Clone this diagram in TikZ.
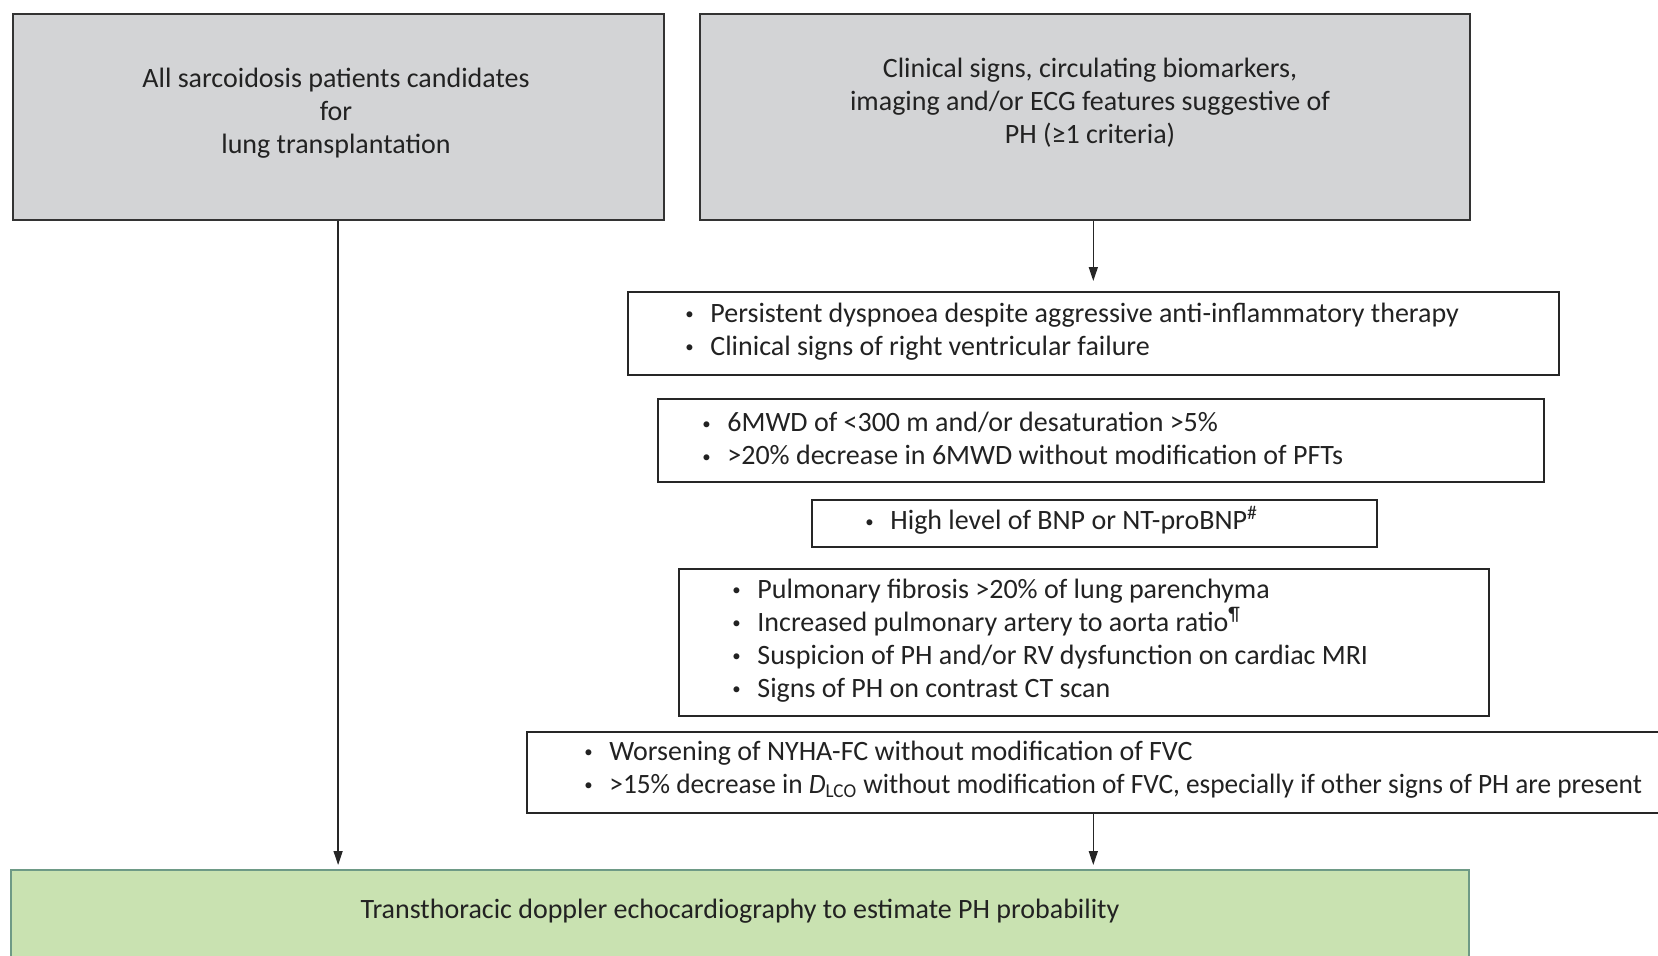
\documentclass[tikz,border=0pt]{standalone}
\usepackage{fontspec}
\setmainfont{Carlito}
\usetikzlibrary{arrows.meta,calc}
\definecolor{boxgray}{HTML}{D3D4D6}
\definecolor{greenfill}{HTML}{C9E2B1}
\definecolor{greenline}{HTML}{6E9A86}
\definecolor{txtcol}{HTML}{222222}
\newcommand{\bul}{\makebox[12.5pt][l]{\raisebox{1.2pt}{\scalebox{0.6}{\textbullet}}}}
\begin{document}
\begin{tikzpicture}[x=0.5pt,y=-0.5pt,
  graybox/.style={draw=black!80, line width=1pt, fill=boxgray, anchor=north west, inner sep=0},
  listbox/.style={draw=black!85, line width=0.8pt, fill=white, anchor=north west, inner sep=0},
  greenbox/.style={draw=greenline, line width=1pt, fill=greenfill, anchor=north west, inner sep=0},
  txt/.style={font=\fontsize{14}{16.5}\selectfont, inner sep=0, text=txtcol},
  arr/.style={-{Triangle[length=7pt,width=4.5pt]}, line width=0.7pt, draw=black!85}]
\useasboundingbox (0,0) rectangle (1658,955);
% boxes
\node[graybox, minimum width=325.5pt, minimum height=103pt] (A) at (11.6,12.7) {};
\node[graybox, minimum width=385pt, minimum height=103pt] (B) at (699,12.7) {};
\node[listbox, minimum width=465.5pt, minimum height=41.5pt] (C1) at (627,291) {};
\node[listbox, minimum width=443pt, minimum height=41.5pt] (C2) at (657,398) {};
\node[listbox, minimum width=282.5pt, minimum height=23.5pt] (C3) at (811,499) {};
\node[listbox, minimum width=405pt, minimum height=73.5pt] (C4) at (678,568) {};
\node[listbox, minimum width=577pt, minimum height=40.5pt] (C5) at (526,731) {};
\node[greenbox, minimum width=729.25pt, minimum height=55.5pt] (G) at (9.5,869) {};
% texts
\node[txt, align=center] (tA) at (336,113) {All sarcoidosis patients candidates\\for\\lung transplantation};
\node[txt, align=center] (tB) at (1090,103) {Clinical signs, circulating biomarkers,\\imaging and/or ECG features suggestive of\\PH (≥1 criteria)};
\node[txt, align=left, anchor=west] (t1) at (685,331.5) {\bul Persistent dyspnoea despite aggressive anti-inflammatory therapy\\\bul Clinical signs of right ventricular failure};
\node[txt, align=left, anchor=west] (t2) at (702,438.5) {\bul 6MWD of <300 m and/or desaturation >5\%\\\bul >20\% decrease in 6MWD without modification of PFTs};
\node[txt, align=left, anchor=west] (t3) at (865,520) {\bul High level of BNP or NT-proBNP\textsuperscript{\#}};
\node[txt, align=left, anchor=west] (t4) at (732,640.5) {\bul Pulmonary fibrosis >20\% of lung parenchyma\\\bul Increased pulmonary artery to aorta ratio\textsuperscript{¶}\\\bul Suspicion of PH and/or RV dysfunction on cardiac MRI\\\bul Signs of PH on contrast CT scan};
\node[txt, align=left, anchor=west] (t5) at (584,769.5) {\bul Worsening of NYHA-FC without modification of FVC\\\bul \scalebox{0.975}[1]{>15\% decrease in \textit{D}\textsubscript{LCO} without modification of FVC, especially if other signs of PH are present}};
\node[txt] (tG) at (740,911) {Transthoracic doppler echocardiography to estimate PH probability};
% arrows
\draw[arr, shorten >=5pt] (B.south -| C1.north) -- (C1.north);
\draw[arr, shorten >=2pt] (C5.south -| C1.north) -- (G.north -| C1.north);
\draw[arr, shorten >=2pt] (A.south) -- (G.north -| A.south);
\end{tikzpicture}
\end{document}
